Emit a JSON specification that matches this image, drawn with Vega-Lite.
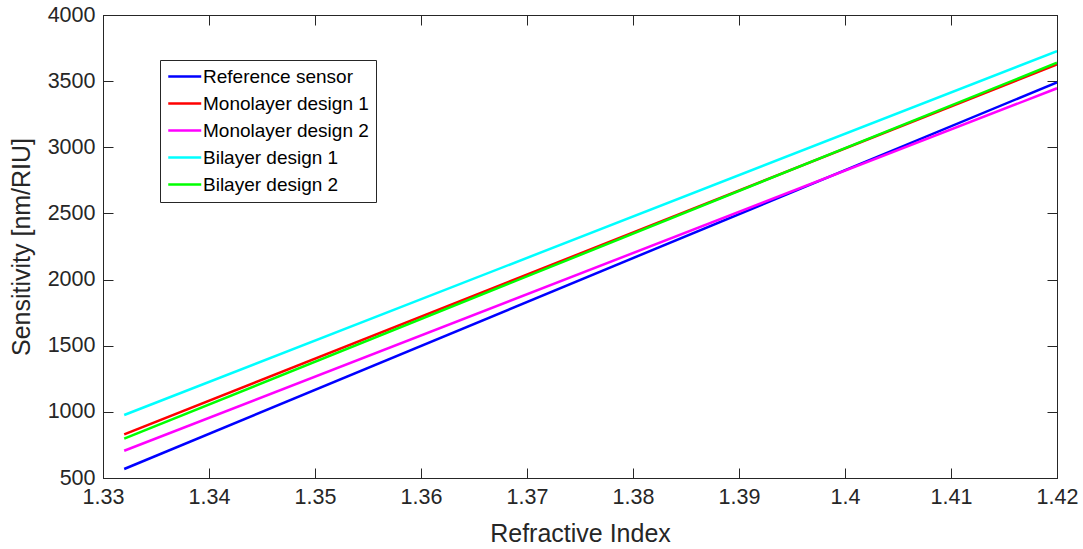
{
  "$schema": "https://vega.github.io/schema/vega-lite/v6.json",
  "width": 954,
  "height": 463,
  "autosize": {"type": "none"},
  "padding": {"left": 103, "top": 15, "right": 26, "bottom": 71},
  "background": "white",
  "config": {
    "font": "Liberation Sans",
    "view": {"stroke": "#262626", "strokeWidth": 1}
  },
  "data": {
    "values": [
      {"series": "Reference sensor", "ri": 1.332, "s": 568},
      {"series": "Reference sensor", "ri": 1.42, "s": 3491},
      {"series": "Monolayer design 1", "ri": 1.332, "s": 830},
      {"series": "Monolayer design 1", "ri": 1.42, "s": 3627},
      {"series": "Monolayer design 2", "ri": 1.332, "s": 706},
      {"series": "Monolayer design 2", "ri": 1.42, "s": 3446},
      {"series": "Bilayer design 1", "ri": 1.332, "s": 976},
      {"series": "Bilayer design 1", "ri": 1.42, "s": 3727},
      {"series": "Bilayer design 2", "ri": 1.332, "s": 797},
      {"series": "Bilayer design 2", "ri": 1.42, "s": 3639}
    ]
  },
  "layer": [
    {
      "mark": {"type": "line", "strokeWidth": 2.5, "clip": true},
      "encoding": {
        "x": {
          "field": "ri", "type": "quantitative",
          "scale": {"domain": [1.33, 1.42], "nice": false, "zero": false},
          "axis": {
            "orient": "bottom", "title": "Refractive Index",
            "values": [1.33, 1.34, 1.35, 1.36, 1.37, 1.38, 1.39, 1.4, 1.41, 1.42],
            "format": "~g", "grid": false, "labelFlush": false,
            "domainColor": "#262626", "tickColor": "#262626", "tickSize": -10,
            "labelColor": "#262626", "labelFontSize": 21.5, "labelPadding": 18,
            "labelFont": "Liberation Sans",
            "titleFont": "Liberation Sans", "titleFontSize": 25, "titleFontWeight": "normal",
            "titleColor": "#262626", "titlePadding": 14
          }
        },
        "y": {
          "field": "s", "type": "quantitative",
          "scale": {"domain": [500, 4000], "nice": false, "zero": false},
          "axis": {
            "orient": "left", "title": "Sensitivity [nm/RIU]",
            "values": [500, 1000, 1500, 2000, 2500, 3000, 3500, 4000],
            "format": "d", "grid": false, "labelFlush": false,
            "domainColor": "#262626", "tickColor": "#262626", "tickSize": -10,
            "labelColor": "#262626", "labelFontSize": 21.5, "labelPadding": 18,
            "labelFont": "Liberation Sans",
            "titleFont": "Liberation Sans", "titleFontSize": 25, "titleFontWeight": "normal",
            "titleColor": "#262626", "titlePadding": 13
          }
        },
        "color": {
          "field": "series", "type": "nominal",
          "scale": {
            "domain": ["Reference sensor", "Monolayer design 1", "Monolayer design 2", "Bilayer design 1", "Bilayer design 2"],
            "range": ["#0000FF", "#FF0000", "#FF00FF", "#00FFFF", "#00FF00"]
          },
          "legend": {
            "orient": "none", "legendX": 57, "legendY": 45, "title": null,
            "symbolType": "M-1,0H3", "symbolStrokeWidth": 2.5, "symbolSize": 272,
            "symbolFillColor": "transparent",
            "labelFontSize": 19, "labelFont": "Liberation Sans", "labelColor": "#000000",
            "labelOffset": 17, "labelLimit": 0, "rowPadding": 7,
            "padding": 7, "strokeColor": "#262626", "fillColor": "white"
          }
        }
      }
    },
    {
      "mark": {"type": "line", "opacity": 0},
      "encoding": {
        "x": {
          "field": "ri", "type": "quantitative",
          "axis": {
            "orient": "top", "title": null, "labels": false,
            "values": [1.33, 1.34, 1.35, 1.36, 1.37, 1.38, 1.39, 1.4, 1.41, 1.42],
            "grid": false, "domainColor": "#262626", "tickColor": "#262626", "tickSize": -10
          }
        },
        "y": {
          "field": "s", "type": "quantitative",
          "axis": {
            "orient": "right", "title": null, "labels": false,
            "values": [500, 1000, 1500, 2000, 2500, 3000, 3500, 4000],
            "grid": false, "domainColor": "#262626", "tickColor": "#262626", "tickSize": -10
          }
        }
      }
    }
  ],
  "resolve": {"axis": {"x": "independent", "y": "independent"}}
}
